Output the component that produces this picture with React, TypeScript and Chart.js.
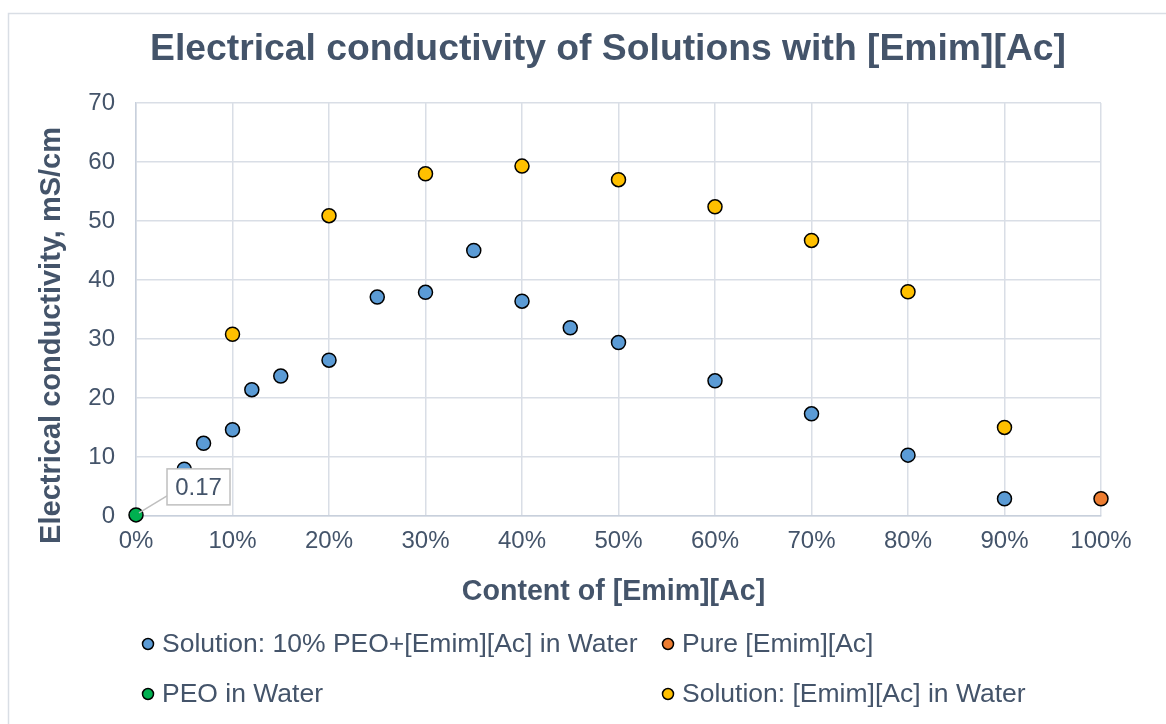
import React, { useEffect, useRef } from 'react';
import { Chart, registerables } from 'chart.js';

Chart.register(...registerables);

const FONT = '"Liberation Sans", Arial, Helvetica, sans-serif';
const TEXT = '#44546A';
const GRID = '#D9DEE6';
const CLEAR = 'rgba(0,0,0,0)';

const chartTitle = 'Electrical conductivity of Solutions with [Emim][Ac]';
const xAxisTitle = 'Content of [Emim][Ac]';
const yAxisTitle = 'Electrical conductivity, mS/cm';
const xTickLabels = ['0%', '10%', '20%', '30%', '40%', '50%', '60%', '70%', '80%', '90%', '100%'];
const yTickLabels = ['0', '10', '20', '30', '40', '50', '60', '70'];

const seriesNames = [
  'Solution: 10% PEO+[Emim][Ac] in Water',
  'Pure [Emim][Ac]',
  'PEO in Water',
  'Solution: [Emim][Ac] in Water',
];
const seriesColors = ['#5B9BD5', '#ED7D31', '#00B050', '#FFC000'];

const peoSolutionContent = [0.05, 0.07, 0.10, 0.12, 0.15, 0.20, 0.25, 0.30, 0.35, 0.40, 0.45, 0.50, 0.60, 0.70, 0.80, 0.90];
const peoSolutionValues = [7.9, 12.3, 14.6, 21.4, 23.7, 26.4, 37.1, 37.9, 45.0, 36.4, 31.9, 29.4, 22.9, 17.3, 10.3, 2.9];

const pureContent = [1.0];
const pureValues = [2.9];

const peoWaterContent = [0];
const peoWaterValues = [0.17];

const ilSolutionContent = [0.10, 0.20, 0.30, 0.40, 0.50, 0.60, 0.70, 0.80, 0.90];
const ilSolutionValues = [30.8, 50.9, 58.0, 59.3, 57.0, 52.4, 46.7, 38.0, 15.0];

const toPoints = (xs: number[], ys: number[]) => xs.map((x, i) => ({ x, y: ys[i] }));

const borderPlugin = {
  id: 'outerBorder',
  beforeDraw(chart: any) {
    const ctx = chart.ctx;
    ctx.save();
    ctx.fillStyle = '#ffffff';
    ctx.fillRect(0, 0, chart.width, chart.height);
    ctx.strokeStyle = '#D9DEE5';
    ctx.lineWidth = 1.5;
    ctx.strokeRect(8.5, 13.5, chart.width + 10, chart.height + 10);
    ctx.restore();
  },
};

const titlesPlugin = {
  id: 'titlesCustom',
  afterDraw(chart: any) {
    const ctx = chart.ctx;
    const area = chart.chartArea;
    const ys = chart.scales.y;
    ctx.save();
    ctx.fillStyle = TEXT;
    ctx.textAlign = 'center';
    ctx.textBaseline = 'alphabetic';
    // chart title
    ctx.font = `bold 37.3px ${FONT}`;
    ctx.fillText(chartTitle, 608, 60);
    // x-axis title
    ctx.font = `bold 28.6px ${FONT}`;
    ctx.fillText(xAxisTitle, (area.left + area.right) / 2 - 5, 600);
    // y-axis title
    ctx.translate(ys.left + 60, (area.top + area.bottom) / 2 + 26);
    ctx.rotate(-Math.PI / 2);
    ctx.font = `bold 29px ${FONT}`;
    ctx.fillText(yAxisTitle, 0, 0);
    ctx.restore();
  },
};

const dataLabelPlugin = {
  id: 'peoLabel',
  afterDatasetsDraw(chart: any) {
    const meta = chart.getDatasetMeta(2);
    const el = meta.data[0];
    if (!el) return;
    const ctx = chart.ctx;
    const px = el.x;
    const py = el.y;
    const bx = px + 31;
    const by = py - 46;
    const bw = 63;
    const bh = 36;
    ctx.save();
    ctx.strokeStyle = '#BFBFBF';
    ctx.lineWidth = 1.5;
    ctx.beginPath();
    ctx.moveTo(px + 3, py - 2);
    ctx.lineTo(bx, py - 19);
    ctx.stroke();
    ctx.fillStyle = '#ffffff';
    ctx.fillRect(bx, by, bw, bh);
    ctx.strokeRect(bx, by, bw, bh);
    ctx.fillStyle = TEXT;
    ctx.font = `24px ${FONT}`;
    ctx.textAlign = 'center';
    ctx.textBaseline = 'middle';
    ctx.fillText(String(peoWaterValues[0]), bx + bw / 2, by + bh / 2 + 1);
    ctx.restore();
  },
};

const legendPlugin = {
  id: 'gridLegend',
  afterDraw(chart: any) {
    const ctx = chart.ctx;
    const colX = [148, 668];
    const rowY = [644, 694];
    ctx.save();
    chart.data.datasets.forEach((ds: any, i: number) => {
      const x = colX[i % 2];
      const y = rowY[Math.floor(i / 2)];
      ctx.beginPath();
      ctx.arc(x, y, 5.5, 0, Math.PI * 2);
      ctx.fillStyle = ds.backgroundColor;
      ctx.fill();
      ctx.lineWidth = 1.5;
      ctx.strokeStyle = '#000000';
      ctx.stroke();
      ctx.fillStyle = TEXT;
      ctx.font = `26.5px ${FONT}`;
      ctx.textAlign = 'left';
      ctx.textBaseline = 'middle';
      ctx.fillText(ds.label, x + 14, y + 1);
    });
    ctx.restore();
  },
};

export default function App() {
  const canvasRef = useRef<HTMLCanvasElement | null>(null);

  useEffect(() => {
    if (!canvasRef.current) return;
    const mk = (i: number, pts: { x: number; y: number }[]) => ({
      label: seriesNames[i],
      data: pts,
      backgroundColor: seriesColors[i],
      borderColor: '#000000',
      pointRadius: 7,
      pointHoverRadius: 7,
      pointBorderWidth: 1.5,
      showLine: false,
      clip: false as any,
    });
    const chart = new Chart(canvasRef.current, {
      type: 'scatter',
      data: {
        datasets: [
          mk(0, toPoints(peoSolutionContent, peoSolutionValues)),
          mk(1, toPoints(pureContent, pureValues)),
          mk(2, toPoints(peoWaterContent, peoWaterValues)),
          mk(3, toPoints(ilSolutionContent, ilSolutionValues)),
        ],
      },
      options: {
        responsive: false,
        animation: false,
        layout: { padding: { left: 0, right: 65, top: 0, bottom: 117 } },
        plugins: {
          legend: { display: false },
          tooltip: { enabled: false },
          title: {
            display: true,
            text: chartTitle,
            color: CLEAR,
            font: { family: FONT, size: 37, weight: 'bold' },
            padding: { top: 25, bottom: 33.6 },
          },
        },
        scales: {
          x: {
            type: 'linear',
            min: 0,
            max: 1,
            grid: { color: GRID, lineWidth: 1.5, drawTicks: false },
            border: { color: '#C8D0DC', width: 1.5 },
            ticks: {
              stepSize: 0.1,
              padding: 11.5,
              color: TEXT,
              font: { family: FONT, size: 24 },
              callback: (_v: any, i: number) => xTickLabels[i],
            },
            title: {
              display: true,
              text: xAxisTitle,
              color: CLEAR,
              font: { family: FONT, size: 28.6, weight: 'bold' },
              padding: { top: 5, bottom: 0 },
            },
          },
          y: {
            type: 'linear',
            min: 0,
            max: 70,
            grid: { color: GRID, lineWidth: 1.5, drawTicks: false },
            border: { color: '#C8D0DC', width: 1.5 },
            ticks: {
              stepSize: 10,
              padding: 21,
              color: TEXT,
              font: { family: FONT, size: 24 },
              callback: (_v: any, i: number) => yTickLabels[i],
            },
            title: {
              display: true,
              text: yAxisTitle,
              color: CLEAR,
              font: { family: FONT, size: 28.6, weight: 'bold' },
              padding: { top: 33, bottom: 0 },
            },
          },
        },
      },
      plugins: [borderPlugin, dataLabelPlugin, titlesPlugin, legendPlugin],
    });
    return () => chart.destroy();
  }, []);

  return (
    <div style={{ position: 'fixed', left: 0, top: 0, width: 1166, height: 724, background: '#fff' }}>
      <canvas ref={canvasRef} width={1166} height={724} style={{ width: 1166, height: 724, display: 'block' }} />
    </div>
  );
}
